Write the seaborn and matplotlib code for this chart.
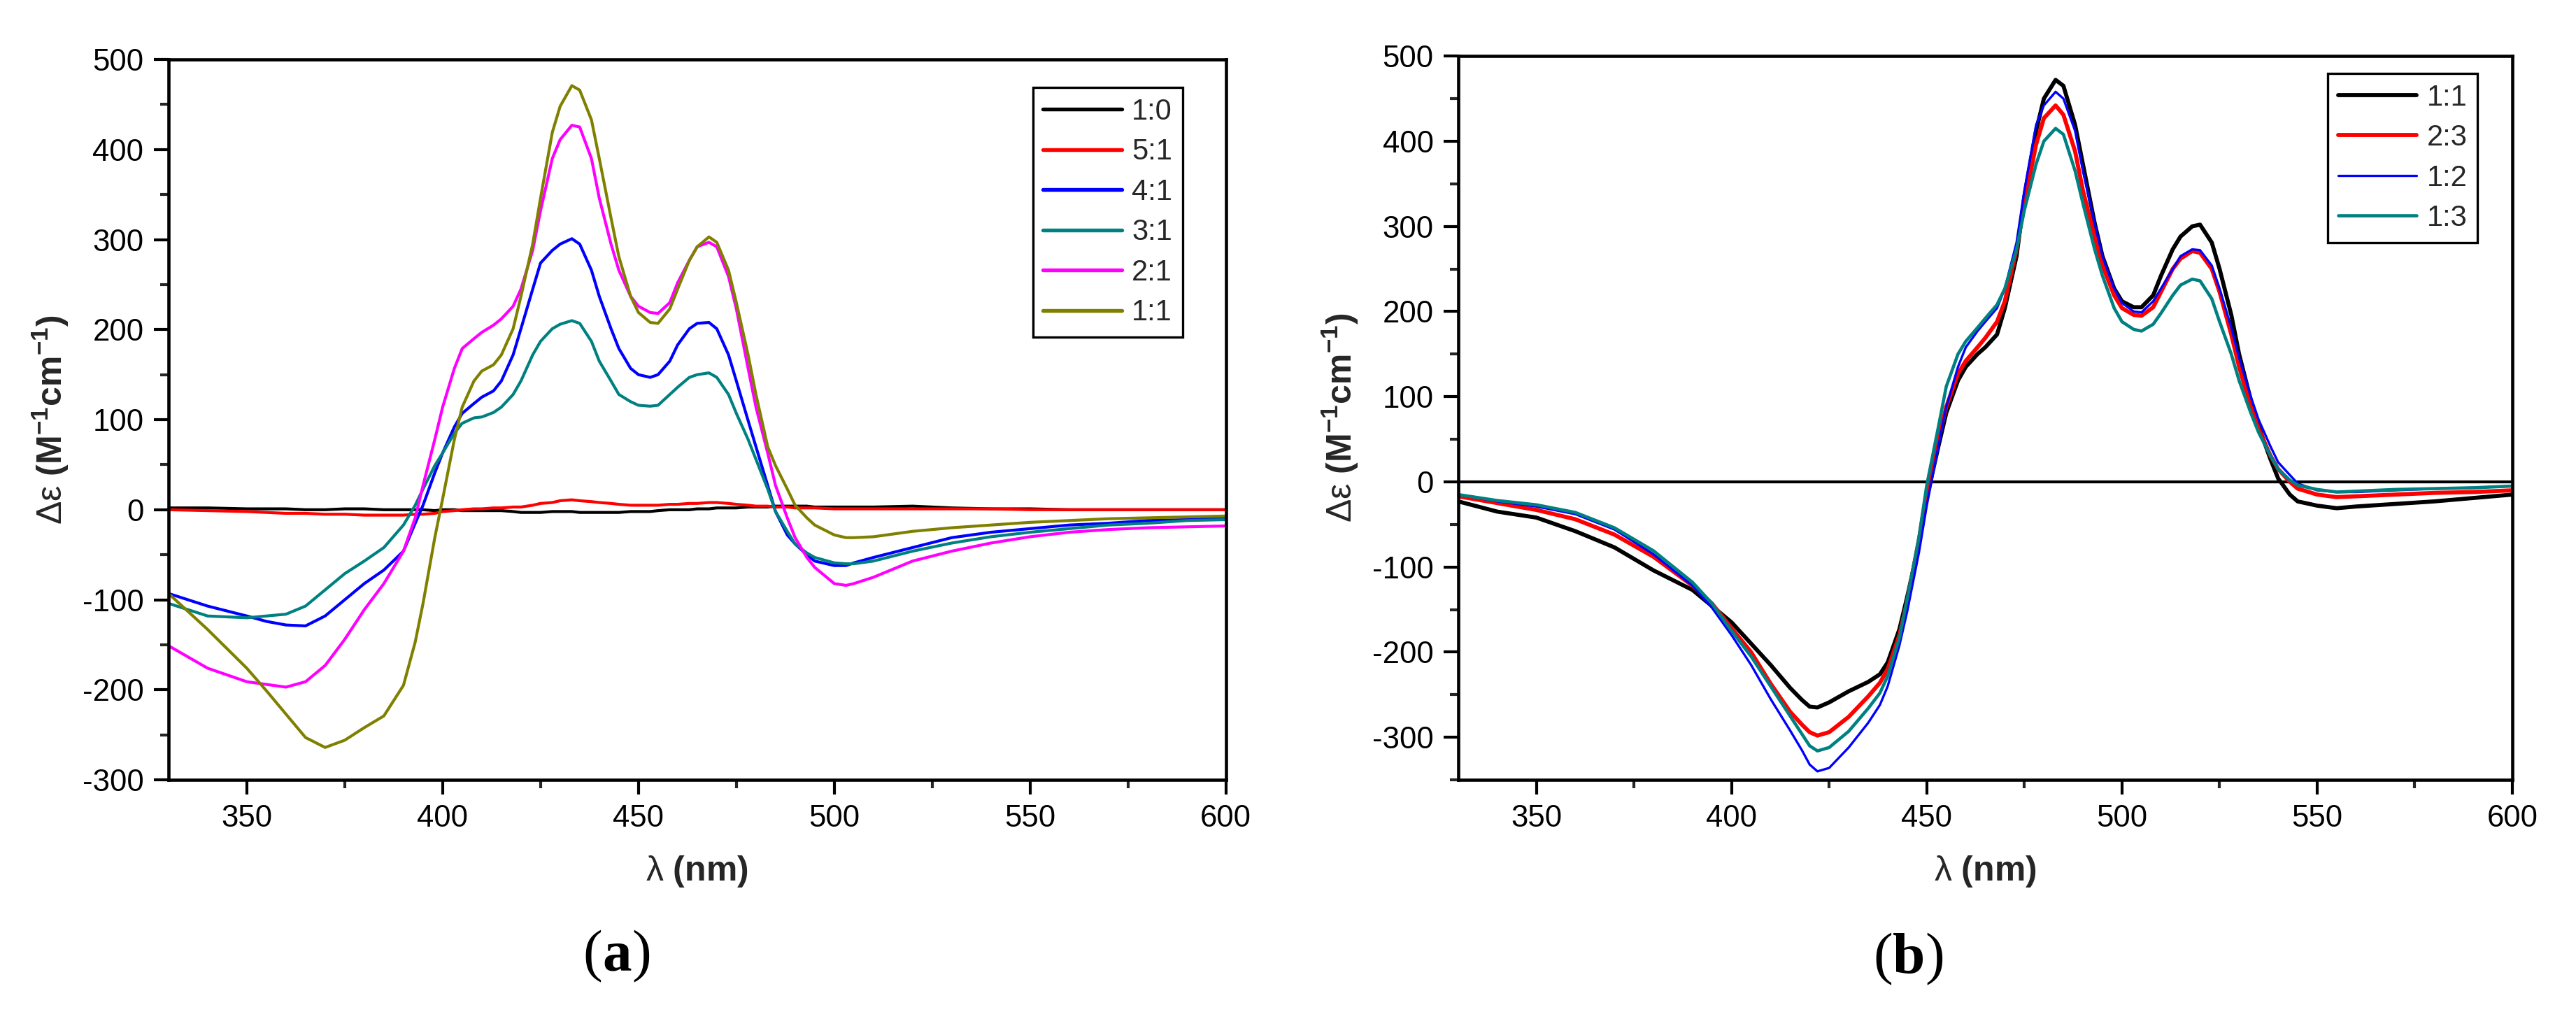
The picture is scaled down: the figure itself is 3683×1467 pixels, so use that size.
import seaborn as sns
import matplotlib.pyplot as plt
import pandas as pd
import numpy as np
from matplotlib.ticker import MultipleLocator
from matplotlib.offsetbox import TextArea, HPacker, AnchoredOffsetbox

# ---- panel (a): titration series, common wavelength grid (nm)
wl_a = [330, 340, 350, 355, 360, 365, 370, 375, 380, 385,
        390, 393, 395, 398, 400, 403, 405, 408, 410, 413,
        415, 418, 420, 423, 425, 428, 430, 433, 435, 438,
        440, 443, 445, 448, 450, 453, 455, 458, 460, 463,
        465, 468, 470, 473, 475, 478, 480, 483, 485, 488,
        490, 493, 495, 500, 503, 505, 510, 520, 530, 540,
        550, 560, 570, 580, 590, 600]

a_1_0 = [2, 2, 1, 1, 1, 0, 0, 1, 1, 0,
         0, 0, 0, -1, 0, 0, -1, -1, -1, -1,
         -1, -2, -3, -3, -3, -2, -2, -2, -3, -3,
         -3, -3, -3, -2, -2, -2, -1, 0, 0, 0,
         1, 1, 2, 2, 2, 3, 3, 3, 4, 4,
         4, 4, 3, 3, 3, 3, 3, 4, 2, 1,
         1, 0, 0, 0, 0, 0]
a_5_1 = [0, -1, -2, -3, -4, -4, -5, -5, -6, -6,
         -6, -5, -5, -4, -2, -1, 0, 1, 1, 2,
         2, 3, 3, 5, 7, 8, 10, 11, 10, 9,
         8, 7, 6, 5, 5, 5, 5, 6, 6, 7,
         7, 8, 8, 7, 6, 5, 4, 4, 3, 3,
         2, 2, 2, 1, 1, 1, 1, 1, 1, 1,
         0, 0, 0, 0, 0, 0]
a_4_1 = [-93, -107, -118, -124, -128, -129, -118, -100, -82, -67,
         -46, -15, 5, 41, 63, 92, 107, 118, 125, 132,
         143, 172, 201, 245, 274, 288, 295, 301, 295, 266,
         237, 201, 179, 157, 150, 147, 150, 165, 183, 201,
         207, 208, 201, 172, 143, 99, 70, 27, -2, -28,
         -38, -50, -57, -62, -62, -59, -53, -42, -31, -25,
         -21, -17, -15, -12, -11, -9]
a_3_1 = [-104, -118, -120, -118, -116, -107, -89, -71, -57, -42,
         -17, 5, 23, 49, 63, 85, 96, 102, 103, 108,
         114, 128, 143, 172, 187, 201, 206, 210, 207, 187,
         165, 143, 128, 120, 116, 115, 116, 128, 136, 147,
         150, 152, 147, 128, 107, 78, 56, 23, -2, -24,
         -38, -48, -53, -59, -60, -60, -57, -46, -37, -30,
         -25, -21, -17, -15, -12, -11]
a_2_1 = [-151, -176, -191, -194, -197, -191, -173, -144, -111, -82,
         -46, -9, 27, 78, 114, 157, 179, 190, 197, 205,
         212, 226, 245, 288, 332, 390, 411, 427, 425, 390,
         346, 295, 266, 237, 226, 219, 218, 230, 252, 277,
         292, 297, 292, 259, 223, 157, 114, 63, 27, -9,
         -31, -53, -64, -82, -84, -82, -75, -57, -46, -37,
         -30, -25, -22, -20, -19, -18]
a_1_1 = [-93, -133, -176, -201, -227, -253, -264, -256, -242, -229,
         -195, -147, -104, -31, 12, 78, 114, 143, 154, 161,
         172, 201, 237, 295, 346, 419, 448, 471, 466, 433,
         390, 324, 281, 237, 219, 208, 207, 223, 245, 277,
         292, 303, 297, 266, 230, 172, 128, 70, 49, 23,
         5, -9, -17, -28, -31, -31, -30, -24, -20, -17,
         -14, -12, -10, -9, -8, -7]

labels_a = ["1:0", "5:1", "4:1", "3:1", "2:1", "1:1"]
colors_a = ["#000000", "#ff0000", "#0000ff", "#008080", "#ff00ff", "#808000"]

# ---- panel (b)
wl_b = [330, 340, 350, 360, 370, 380, 390, 395, 400, 405,
        410, 415, 418, 420, 422, 425, 430, 435, 438, 440,
        443, 445, 448, 450, 453, 455, 458, 460, 463, 465,
        468, 470, 473, 475, 478, 480, 483, 485, 488, 490,
        493, 495, 498, 500, 503, 505, 508, 510, 513, 515,
        518, 520, 523, 525, 528, 530, 533, 535, 538, 540,
        543, 545, 550, 555, 560, 570, 580, 590, 600]

b_1_1 = [-23, -35, -42, -58, -77, -104, -127, -146, -165, -190,
         -215, -242, -256, -264, -265, -259, -246, -235, -226, -212,
         -173, -135, -73, -19, 42, 81, 119, 135, 150, 158,
         173, 204, 265, 335, 412, 450, 472, 465, 419, 373,
         304, 265, 227, 212, 205, 205, 219, 242, 273, 288,
         300, 302, 281, 250, 196, 150, 96, 65, 27, 4,
         -15, -23, -28, -31, -29, -26, -23, -19, -15]
b_2_3 = [-17, -25, -33, -44, -62, -88, -122, -143, -172, -200,
         -237, -270, -285, -294, -298, -294, -276, -252, -236, -220,
         -180, -140, -68, -12, 50, 88, 127, 142, 158, 169,
         188, 212, 273, 327, 396, 427, 442, 431, 388, 342,
         288, 254, 219, 204, 196, 195, 205, 223, 250, 262,
         271, 269, 250, 223, 173, 135, 88, 62, 31, 15,
         0, -8, -15, -18, -17, -15, -13, -12, -10]
b_1_2 = [-15, -23, -29, -38, -56, -85, -122, -148, -180, -215,
         -255, -292, -315, -332, -340, -336, -312, -283, -262, -240,
         -192, -152, -83, -28, 42, 88, 135, 158, 177, 188,
         204, 227, 281, 342, 419, 442, 458, 450, 412, 365,
         304, 265, 227, 210, 200, 199, 212, 227, 250, 265,
         273, 272, 254, 227, 181, 146, 100, 73, 42, 23,
         8, -2, -10, -12, -12, -10, -8, -7, -5]
b_1_3 = [-15, -22, -27, -36, -54, -81, -118, -143, -175, -205,
         -240, -275, -296, -310, -316, -312, -293, -266, -248, -228,
         -183, -137, -65, -4, 65, 112, 150, 165, 181, 192,
         208, 227, 273, 319, 373, 400, 415, 408, 365, 327,
         273, 242, 204, 188, 179, 177, 185, 198, 219, 231,
         238, 236, 215, 188, 150, 119, 81, 58, 31, 15,
         2, -4, -9, -12, -11, -9, -8, -7, -5]

labels_b = ["1:1", "2:3", "1:2", "1:3"]
colors_b = ["#000000", "#ff0000", "#0000ff", "#008080"]
widths_b = [1.4, 1.4, 0.8, 1.1]

df_a = pd.concat([pd.DataFrame({"wl": wl_a, "de": v, "ratio": l})
                  for v, l in zip([a_1_0, a_5_1, a_4_1, a_3_1, a_2_1, a_1_1], labels_a)])
df_b = pd.concat([pd.DataFrame({"wl": wl_b, "de": v, "ratio": l})
                  for v, l in zip([b_1_1, b_2_3, b_1_2, b_1_3], labels_b)])

sns.set_style("ticks")
plt.rcParams["font.family"] = ["Liberation Sans", "DejaVu Sans"]
plt.rcParams["mathtext.fontset"] = "custom"
plt.rcParams["mathtext.rm"] = "Liberation Sans"
plt.rcParams["mathtext.bf"] = "Liberation Sans:bold"
plt.rcParams["axes.unicode_minus"] = False

fig = plt.figure(figsize=(3683 / 300, 1467 / 300), dpi=300)
ax1 = fig.add_axes([0.0654, 0.2399, 0.4105, 0.7021])
ax2 = fig.add_axes([0.5661, 0.2399, 0.4092, 0.7055])

for lab, col in zip(labels_a, colors_a):
    sns.lineplot(data=df_a[df_a["ratio"] == lab], x="wl", y="de", color=col,
                 linewidth=1.0, sort=False, estimator=None, label=lab, ax=ax1)

ax2.axhline(0, color="black", linewidth=1.0, zorder=1)
for lab, col, lw in zip(labels_b, colors_b, widths_b):
    sns.lineplot(data=df_b[df_b["ratio"] == lab], x="wl", y="de", color=col,
                 linewidth=lw, sort=False, estimator=None, label=lab, ax=ax2)

ax1.set_ylim(-300, 500)
ax2.set_ylim(-350, 500)
for ax in (ax1, ax2):
    ax.set_xlim(330, 600)
    ax.xaxis.set_major_locator(MultipleLocator(50))
    ax.xaxis.set_minor_locator(MultipleLocator(25))
    ax.yaxis.set_major_locator(MultipleLocator(100))
    ax.yaxis.set_minor_locator(MultipleLocator(50))
    ax.tick_params(which="major", direction="out", length=5, width=1.0,
                   pad=3.5, labelsize=10.5, colors="black")
    ax.tick_params(which="minor", direction="out", length=2.8, width=1.0)
    for sp in ax.spines.values():
        sp.set_linewidth(1.1)
        sp.set_color("black")
    ax.set_xlabel(r"λ $\mathbf{(nm)}$", fontsize=12, labelpad=7)
    ax.set_ylabel(r"Δε $\mathbf{(M^{-1}cm^{-1})}$", fontsize=12, labelpad=4)

leg_kw = dict(loc="upper right", fontsize=10, frameon=True, fancybox=False,
              edgecolor="black", framealpha=1, handlelength=2.7,
              handletextpad=0.35, labelspacing=0.42, borderpad=0.35,
              borderaxespad=0)
lg1 = ax1.legend(bbox_to_anchor=(0.959, 0.961), **leg_kw)
lg2 = ax2.legend(bbox_to_anchor=(0.967, 0.976), **leg_kw)
for lg in (lg1, lg2):
    lg.get_frame().set_linewidth(0.8)
for line in lg1.get_lines():
    line.set_linewidth(1.3)

# panel letters: regular parentheses, bold letter
for letter, xy in (("a", (0.2395, 0.0675)), ("b", (0.741, 0.065))):
    serif = dict(family="Liberation Serif", size=20, color="black")
    parts = [TextArea("(", textprops=serif),
             TextArea(letter, textprops=dict(serif, weight="bold")),
             TextArea(")", textprops=serif)]
    box = HPacker(children=parts, align="baseline", pad=0, sep=0)
    anch = AnchoredOffsetbox(loc="center", child=box, pad=0, borderpad=0,
                             frameon=False, bbox_to_anchor=xy,
                             bbox_transform=fig.transFigure)
    fig.add_artist(anch)

plt.savefig("out.png", dpi=300)
